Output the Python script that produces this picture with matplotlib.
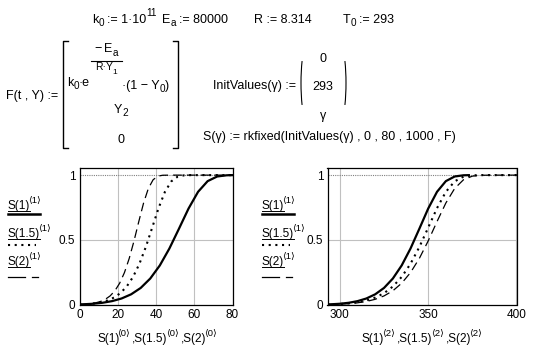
import matplotlib
matplotlib.use('Agg')
import matplotlib.pyplot as plt
from matplotlib.lines import Line2D
from matplotlib.patches import Arc

plt.rcParams['font.family'] = ['Liberation Sans', 'DejaVu Sans']

# Результаты rkfixed: время, степень превращения Y0, температура Y1
# gamma = 1
t_g1 = [0, 7, 12, 17, 22, 27, 32, 37, 42, 47, 52, 57, 62, 67, 72, 77, 80]
y_g1 = [0, 0.0057, 0.0133, 0.026, 0.0465, 0.0788, 0.128, 0.2008, 0.302, 0.4327,
        0.5855, 0.7412, 0.871, 0.9535, 0.9894, 0.9987, 0.9997]
T_g1 = [293, 300, 305, 310, 315, 320, 325, 330, 335, 340, 345, 350, 355, 360, 365, 370, 373]
# gamma = 1.5
t_g15 = [0, 4.67, 8, 11.33, 14.67, 18, 21.33, 24.67, 28, 31.33, 34.67, 38, 41.33,
         44.67, 48, 51.33, 54.67, 58, 64.67, 80]
y_g15 = [0, 0.0038, 0.0089, 0.0174, 0.0312, 0.0533, 0.0874, 0.1388, 0.2132, 0.3147,
         0.4443, 0.5937, 0.7448, 0.8707, 0.9518, 0.9883, 0.9984, 0.9999, 1.0, 1.0]
T_g15 = [293, 300, 305, 310, 315, 320, 325, 330, 335, 340, 345, 350, 355, 360, 365,
         370, 375, 380, 390, 413]
# gamma = 2
t_g2 = [0, 3.5, 6, 8.5, 11, 13.5, 16, 18.5, 21, 23.5, 26, 28.5, 31, 33.5, 36, 38.5,
        41, 43.5, 48.5, 53.5, 80]
y_g2 = [0, 0.0029, 0.0067, 0.0131, 0.0235, 0.0402, 0.0663, 0.1060, 0.1646, 0.2467,
        0.3563, 0.4912, 0.6409, 0.7843, 0.8969, 0.9643, 0.9921, 0.9990, 1.0, 1.0, 1.0]
T_g2 = [293, 300, 305, 310, 315, 320, 325, 330, 335, 340, 345, 350, 355, 360, 365,
        370, 375, 380, 390, 400, 453]

t_ticks = [0, 20, 40, 60, 80]
T_ticks = [300, 350, 400]
y_ticks = [0, 0.5, 1]
y_labels = ['0', '0.5', '1']

W, H = 541, 354
FS = 8.5
fig = plt.figure(figsize=(W / 100, H / 100), dpi=100)
renderer = fig.canvas.get_renderer()


def px(x, y):
    return x / W, 1 - y / H


def rich(x, y, parts, size=FS, ha='left'):
    # parts: строка, (строка, -1 индекс / 1 степень) или число = зазор в пикселях
    arts, widths = [], []
    for p in parts:
        if isinstance(p, (int, float)):
            arts.append(None)
            widths.append(p)
            continue
        s, k = p if isinstance(p, tuple) else (p, 0)
        fs = size if k == 0 else size * 0.8
        dy = {0: 0, -1: 3.5, 1: -6.5}[k]
        t = fig.text(0, 1 - (y + dy) / H, s, fontsize=fs, va='baseline', color='black')
        arts.append(t)
        widths.append(t.get_window_extent(renderer).width)
    total = sum(widths)
    if ha == 'center':
        cx = x - total / 2
    elif ha == 'right':
        cx = x - total
    else:
        cx = x
    for t, w in zip(arts, widths):
        if t is not None:
            t.set_x(cx / W)
        cx += w
    return widths


def line(xs, ys, **kw):
    fig.add_artist(Line2D([x / W for x in xs], [1 - y / H for y in ys],
                          transform=fig.transFigure, color='black', **kw))


FE = 9
# верхняя строка с константами
rich(92, 23, ['k', ('0', -1), 3, ':= 1·10', ('11', 1)], FE)
rich(162, 23, ['E', ('a', -1), 3, ':= 80000'], FE)
rich(254, 23, ['R := 8.314'], FE)
rich(343, 23, ['T', ('0', -1), 3, ':= 293'], FE)

# F(t, Y)
rich(58, 99, ['F(t , Y) :='], FE, ha='right')
line([68, 63, 63, 68], [41, 41, 148, 148], lw=1)
line([173, 178, 178, 173], [41, 41, 148, 148], lw=1)
rich(106, 52, ['−', 3, 'E', ('a', -1)], FE, ha='center')
line([91, 122], [61, 61], lw=0.8)
rich(106, 70, ['R·Y', ('1', -1)], FE - 1.5, ha='center')
rich(67, 86, ['k', ('0', -1), '·e'], FE)
rich(122, 89, ['·(1 − Y', ('0', -1), ')'], FE)
rich(121, 113, ['Y', ('2', -1)], FE, ha='center')
rich(121, 143, ['0'], FE, ha='center')

# InitValues
rich(296, 89, ['InitValues(γ) :='], FE, ha='right')
fig.add_artist(Arc(px(308, 83), 14 / W, 82 / H, theta1=100, theta2=260,
                   transform=fig.transFigure, color='black', lw=0.8))
fig.add_artist(Arc(px(339, 83), 14 / W, 82 / H, theta1=-80, theta2=80,
                   transform=fig.transFigure, color='black', lw=0.8))
rich(323, 62, ['0'], FE, ha='center')
rich(323, 90, ['293'], FE, ha='center')
rich(323, 119, ['γ'], FE, ha='center')
rich(203, 140, ['S(γ) := rkfixed(InitValues(γ) , 0 , 80 , 1000 , F)'], FE)

# стили линий как в Mathcad
styles = [dict(color='black', lw=1.6, ls='-'),
          dict(color='black', lw=1.5, ls=(0, (1, 2.2))),
          dict(color='black', lw=0.9, ls=(0, (7, 4)))]


def setup(ax, xlim, xticks):
    ax.set_xlim(*xlim)
    ax.set_ylim(0, 1.055)
    ax.set_xticks(xticks)
    ax.set_xticklabels([str(v) for v in xticks])
    ax.set_yticks(y_ticks)
    ax.set_yticklabels(y_labels)
    ax.tick_params(length=0, labelsize=FS, pad=3)
    for v in xticks:
        ax.axvline(v, color='#c0c0c0', lw=0.8, zorder=0)
    ax.axhline(0.5, color='#c0c0c0', lw=0.8, zorder=0)
    ax.axhline(1, color='#808080', lw=0.8, ls=(0, (1, 1)), zorder=0)
    for s in ax.spines.values():
        s.set_linewidth(0.9)


ax1 = fig.add_axes([79.5 / W, 1 - 304.5 / H, 153 / W, 136.5 / H])
setup(ax1, (0, 80), t_ticks)
ax1.plot(t_g1, y_g1, **styles[0])
ax1.plot(t_g15, y_g15, **styles[1])
ax1.plot(t_g2, y_g2, **styles[2])

ax2 = fig.add_axes([327.5 / W, 1 - 304.5 / H, 189 / W, 136.5 / H])
setup(ax2, (293, 400), T_ticks)
ax2.plot(T_g1, y_g1, **styles[0])
ax2.plot(T_g15, y_g15, **styles[1])
ax2.plot(T_g2, y_g2, **styles[2])
ax2.set_xlim(293, 400)


def ang(n):
    return ('⟨' + n + '⟩', 1)


# подписи осей
rich(157, 342, ['S(1)', -2, ang('0'), 2, ',S(1.5)', -2, ang('0'), 2, ',S(2)', -2, ang('0')],
     FS, ha='center')
rich(422, 342, ['S(1)', -2, ang('2'), 2, ',S(1.5)', -2, ang('2'), 2, ',S(2)', -2, ang('2')],
     FS, ha='center')

# легенда слева от каждого графика
names = ['S(1)', 'S(1.5)', 'S(2)']
for x0 in [8, 262]:
    for i, nm in enumerate(names):
        yb = 209 + i * 28
        w = rich(x0, yb, [nm, -2, ang('1')], FS)
        line([x0, x0 + w[0]], [yb + 2, yb + 2], lw=0.7)
    line([x0, x0 + 32], [214, 214], lw=1.8)
    line([x0, x0 + 28], [245, 245], lw=1.5, ls=(0, (1, 2.2)))
    line([x0, x0 + 17], [277, 277], lw=0.9)
    line([x0 + 24, x0 + 30], [277, 277], lw=0.9)

fig.savefig('out.png', dpi=100)
